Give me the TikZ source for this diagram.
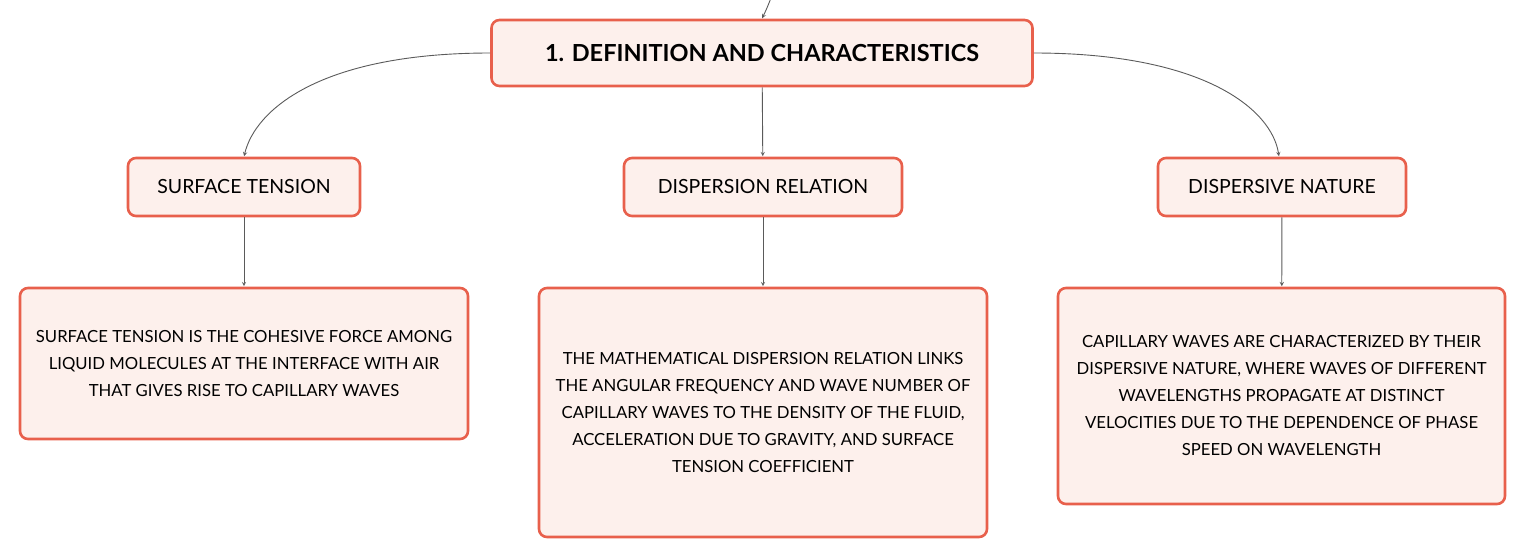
\documentclass[tikz,border=0pt]{standalone}
\usepackage{fontspec}
\setmainfont{Lato}
\usepackage{tikz}

\definecolor{coral}{HTML}{E8604C}
\definecolor{blush}{HTML}{FDF0EC}
\definecolor{wire}{HTML}{5A5A5A}

\begin{document}
\begin{tikzpicture}[x=1pt,y=-1pt,>=stealth,
  box/.style={draw=coral,fill=blush,line width=2.6pt,rounded corners=8pt,
    align=center,inner sep=0pt},
  link/.style={wire,line width=0.9pt,->,shorten >=0.5pt}]
\useasboundingbox (0,0) rectangle (1527,558);
\node[box,minimum width=541pt,minimum height=66pt,font=\fontsize{23.5}{28}\selectfont\bfseries] (def) at (762,53) {1. DEFINITION AND CHARACTERISTICS};
\node[box,minimum width=232pt,minimum height=58pt,font=\fontsize{19.5}{22}\selectfont] (st) at (244,187) {SURFACE TENSION};
\node[box,minimum width=278pt,minimum height=58pt,font=\fontsize{19.5}{22}\selectfont] (dr) at (763,187) {DISPERSION RELATION};
\node[box,minimum width=248pt,minimum height=58pt,font=\fontsize{19.5}{22}\selectfont] (dn) at (1282,187) {DISPERSIVE NATURE};
% descriptions
\node[box,minimum width=448pt,minimum height=151pt,font=\fontsize{16.7}{27}\selectfont] (stt) at (244,363.5) {SURFACE TENSION IS THE COHESIVE FORCE AMONG\\LIQUID MOLECULES AT THE INTERFACE WITH AIR\\THAT GIVES RISE TO CAPILLARY WAVES};
\node[box,minimum width=448pt,minimum height=249pt,font=\fontsize{16.7}{27}\selectfont] (drt) at (763,412.5) {THE MATHEMATICAL DISPERSION RELATION LINKS\\THE ANGULAR FREQUENCY AND WAVE NUMBER OF\\CAPILLARY WAVES TO THE DENSITY OF THE FLUID,\\ACCELERATION DUE TO GRAVITY, AND SURFACE\\TENSION COEFFICIENT};
\node[box,minimum width=447pt,minimum height=216pt,font=\fontsize{16.7}{27}\selectfont] (dnt) at (1281.5,396) {CAPILLARY WAVES ARE CHARACTERIZED BY THEIR\\DISPERSIVE NATURE, WHERE WAVES OF DIFFERENT\\WAVELENGTHS PROPAGATE AT DISTINCT\\VELOCITIES DUE TO THE DEPENDENCE OF PHASE\\SPEED ON WAVELENGTH};
% connectors
\coordinate (up) at (771,-2);
\draw[link] (up) .. controls (767,8) .. (def.north);
\draw[link] (def.west) .. controls (320,53) and (255,110) .. (st.north);
\draw[link] (def.east) .. controls (1205,53) and (1272,110) .. ([xshift=-3pt]dn.north);
\draw[link] (def) -- (dr);
\draw[link] (st) -- (stt);
\draw[link] (dr) -- (drt);
\draw[link] (dn) -- (dnt);
\end{tikzpicture}
\end{document}
